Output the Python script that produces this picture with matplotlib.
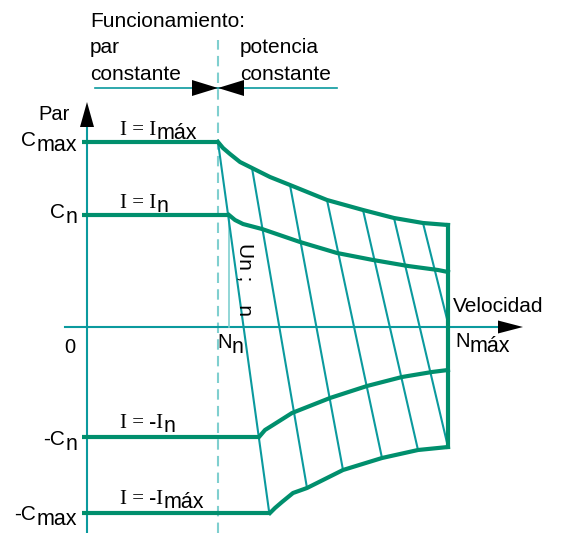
import matplotlib
matplotlib.use("Agg")
import matplotlib.pyplot as plt

SANS = "Liberation Sans"
SERIF = "Liberation Serif"
GREEN = "#008f6d"
TEAL = "#0b9a9e"
LIGHT = "#7fcfcf"

# torque levels: Cmax, Cn, -Cn, -Cmax and the speed where each flat part ends
torque_levels = [1.85, 1.12, -1.10, -1.86]
flat_end_speed = [1.31, 1.42, 1.72, 1.83]
level_labels = [("C", "max"), ("C", "n"), ("-C", "n"), ("-C", "max")]
level_label_y = [1.81, 1.09, -1.18, -1.93]
current_labels = [("I = I", "máx"), ("I = I", "n"), ("I = -I", "n"), ("I = -I", "máx")]
current_label_y = [1.92, 1.19, -1.01, -1.77]

# limit curves in the field weakening zone (speed, torque)
top_speed = [1.31, 1.36, 1.43, 1.53, 1.65, 1.83, 2.03, 2.40, 2.76, 3.07, 3.36, 3.61]
top_torque = [1.85, 1.79, 1.73, 1.65, 1.59, 1.50, 1.42, 1.27, 1.17, 1.09, 1.04, 1.02]
nom_speed = [1.42, 1.48, 1.56, 1.75, 2.13, 2.50, 2.86, 3.21, 3.51, 3.61]
nom_torque = [1.12, 1.07, 1.03, 0.98, 0.85, 0.74, 0.67, 0.61, 0.57, 0.55]
neg_nom_speed = [1.72, 1.78, 1.86, 2.05, 2.43, 2.80, 3.15, 3.45, 3.61]
neg_nom_torque = [-1.10, -1.03, -0.98, -0.86, -0.71, -0.59, -0.50, -0.45, -0.43]
neg_top_speed = [1.83, 1.88, 1.95, 2.06, 2.20, 2.56, 2.95, 3.31, 3.61]
neg_top_torque = [-1.86, -1.81, -1.75, -1.66, -1.61, -1.43, -1.31, -1.23, -1.20]

n_nom = 1.42
n_base = 1.31
n_max = 3.61

# constant voltage lines: start and end points
u_start_speed = [1.31, 1.65, 2.03, 2.40, 2.76, 3.07, 3.36]
u_start_torque = [1.85, 1.59, 1.42, 1.27, 1.17, 1.09, 1.04]
u_end_speed = [1.82, 2.20, 2.56, 2.95, 3.31, 3.61, 3.61]
u_end_torque = [-1.84, -1.61, -1.43, -1.31, -1.23, -1.20, 0.04]

fig = plt.figure(figsize=(5.61, 5.33), dpi=100)
ax = fig.add_axes([0, 0, 1, 1])
ax.set_xlim(-0.87, 4.74)
ax.set_ylim(-2.06, 3.27)
ax.axis("off")


def head(tip, direction, length, half_width):
    tx, ty = tip
    dx, dy = direction
    bx, by = tx - dx * length, ty - dy * length
    ox, oy = -dy * half_width, dx * half_width
    ax.fill([tx, bx + ox, bx - ox], [ty, by + oy, by - oy], color="black", lw=0, zorder=6)


def sub_text(x, y, main, sub, ha="left", family=SANS, size=14, sub_size=15.5, drop=3.5):
    # y is the baseline of the main text, the subscript sits `drop` points lower
    if ha == "left":
        t = ax.text(x, y, main, ha="left", va="baseline", family=family, fontsize=size)
        ax.annotate(sub, xy=(1, y), xycoords=(t, "data"), xytext=(0.2, -drop),
                    textcoords="offset points", ha="left", va="baseline",
                    family=SANS, fontsize=sub_size)
    else:
        s = ax.annotate(sub, xy=(x, y), xytext=(0, -drop), textcoords="offset points",
                        ha="right", va="baseline", family=SANS, fontsize=sub_size)
        ax.annotate(main, xy=(0, y), xycoords=(s, "data"), xytext=(-0.2, 0),
                    textcoords="offset points", ha="right", va="baseline",
                    family=family, fontsize=size)


# axes
ax.plot([0, 0], [-2.06, 2.0], color=TEAL, lw=1.5, zorder=2)
head((0, 2.25), (0, 1), 0.25, 0.07)
ax.plot([-0.22, 4.11], [0, 0], color=TEAL, lw=1.5, zorder=2)
head((4.36, 0), (1, 0), 0.25, 0.065)

# base speed dashed line and nominal speed marker
ax.plot([n_base, n_base], [-2.06, 2.87], color=LIGHT, lw=1.5, ls=(0, (5, 3)), zorder=1)
ax.plot([n_nom, n_nom], [0, torque_levels[1]], color=LIGHT, lw=1.2, zorder=2)

# constant voltage lines
for xs, ys, xe, ye in zip(u_start_speed, u_start_torque, u_end_speed, u_end_torque):
    ax.plot([xs, xe], [ys, ye], color=TEAL, lw=1.5, zorder=3)

# flat current limits
for lvl, xe in zip(torque_levels, flat_end_speed):
    ax.plot([-0.05, xe], [lvl, lvl], color=GREEN, lw=3, solid_capstyle="butt", zorder=4)

for xs, ys in [(top_speed, top_torque), (nom_speed, nom_torque),
               (neg_nom_speed, neg_nom_torque), (neg_top_speed, neg_top_torque)]:
    ax.plot(xs, ys, color=GREEN, lw=3, solid_joinstyle="round", zorder=4)
ax.plot([n_max, n_max], [top_torque[-1], neg_top_torque[-1]], color=GREEN, lw=3, zorder=4)

# operating zone annotation
ax.plot([0.08, 2.50], [2.39, 2.39], color=TEAL, lw=1.2, zorder=2)
head((n_base, 2.39), (1, 0), 0.26, 0.08)
head((n_base, 2.39), (-1, 0), 0.26, 0.08)
ax.text(0.03, 3.00, "Funcionamiento:", family=SANS, fontsize=15, va="baseline")
ax.text(0.03, 2.74, "par", family=SANS, fontsize=15, va="baseline")
ax.text(0.03, 2.47, "constante", family=SANS, fontsize=15, va="baseline")
ax.text(1.53, 2.74, "potencia", family=SANS, fontsize=15, va="baseline")
ax.text(1.53, 2.47, "constante", family=SANS, fontsize=15, va="baseline")

# labels
ax.text(-0.17, 2.07, "Par", family=SANS, fontsize=14.5, ha="right", va="baseline")
for (m, s), yl in zip(level_labels, level_label_y):
    sub_text(-0.10, yl, m, s, ha="right", size=15)
for (m, s), yl in zip(current_labels, current_label_y):
    sub_text(0.33, yl, m, s, family=SERIF, size=15, drop=3.0)

ax.text(-0.17, -0.26, "0", family=SANS, fontsize=14.5, ha="center", va="baseline")
sub_text(1.30, -0.21, "N", "n", size=14.5)
sub_text(3.68, -0.20, "N", "máx", size=14.5)
ax.text(3.66, 0.15, "Velocidad", family=SANS, fontsize=15, va="baseline")
ax.text(1.58, 0.84, "Un ;    n", family=SANS, fontsize=15, rotation=-90, ha="center", va="top")

fig.savefig("out.png", dpi=100)
